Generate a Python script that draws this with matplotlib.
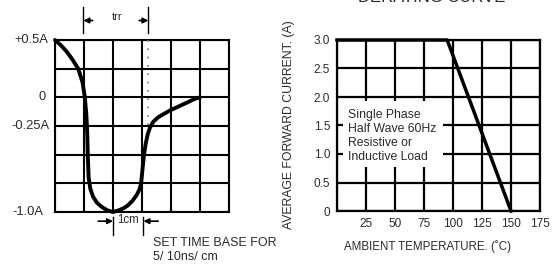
import matplotlib
matplotlib.use("Agg")
import matplotlib.pyplot as plt
from matplotlib.patches import Rectangle
import numpy as np

plt.rcParams["font.family"] = ["Liberation Sans", "DejaVu Sans"]

# reverse recovery waveform (x in cm, y in A)
trr_x = [0.0, 0.2, 0.4, 0.6, 0.8, 0.95, 1.03, 1.08, 1.11, 1.13, 1.16, 1.22, 1.32, 1.45,
         1.61, 1.8, 2.0, 2.2, 2.38, 2.5, 2.68, 2.82, 2.92, 2.97, 3.02, 3.07, 3.13, 3.2,
         3.28, 3.4, 3.55, 3.75, 4.0, 4.3, 4.6, 4.8, 5.0]
trr_y = [0.5, 0.455, 0.4, 0.33, 0.25, 0.13, 0.0, -0.15, -0.3, -0.5, -0.7, -0.8, -0.87, -0.92,
         -0.955, -0.985, -1.0, -0.985, -0.965, -0.945, -0.9, -0.85, -0.8, -0.75, -0.62, -0.5, -0.4, -0.32,
         -0.26, -0.21, -0.175, -0.145, -0.11, -0.075, -0.04, -0.015, 0.0]
left_labels = ["+0.5A", "0", "-0.25A", "-1.0A"]
left_label_vals = [0.5, 0.0, -0.25, -1.0]

# derating curve
temps = [0, 95, 150]
current = [3.0, 3.0, 0.0]
temp_ticks = [0, 25, 50, 75, 100, 125, 150, 175]
current_ticks = [0, 0.5, 1.0, 1.5, 2.0, 2.5, 3.0]

W, H = 557, 267
fig = plt.figure(figsize=(W / 100, H / 100), dpi=100)
txt = "#2a2a2a"

# ---- left: trr waveform ----
ax1 = fig.add_axes([55 / W, (H - 212) / H, 174 / W, 172 / H])
ax1.set_xlim(0, 6)
ax1.set_ylim(-1.0, 0.5)
ax1.set_xticks(np.arange(0, 7, 1))
ax1.set_yticks(np.arange(-1.0, 0.51, 0.25))
ax1.tick_params(length=0, labelbottom=False, labelleft=False)
ax1.grid(True, color="black", lw=1.5)
for s in ax1.spines.values():
    s.set_linewidth(1.5)
ax1.plot(trr_x, trr_y, color="black", lw=2.8, solid_capstyle="round",
         solid_joinstyle="round", zorder=3, clip_on=False)
ax1.plot([3.22, 3.22], [0.5, -0.25], color="#777777", lw=1.2, ls=(0, (1, 4)), zorder=3)

# label x position (cm) and alignment for each level label
lab_pos = {"+0.5A": (-0.24, "right"), "0": (-0.45, "center"),
           "-0.25A": (-0.2, "right"), "-1.0A": (-0.4, "right")}
for lab, v in zip(left_labels, left_label_vals):
    xp, ha = lab_pos[lab]
    ax1.text(xp, v, lab, ha=ha, va="center", fontsize=9.3, color=txt, clip_on=False)

# trr markers
arr = dict(arrowstyle="-|>", color="black", lw=1.2, mutation_scale=8, shrinkA=0, shrinkB=0)
for xv in [0.98, 3.22]:
    ax1.plot([xv, xv], [0.56, 0.79], color="black", lw=1.0, clip_on=False)
ax1.annotate("", xy=(0.98, 0.67), xytext=(1.3, 0.67), arrowprops=arr, annotation_clip=False)
ax1.annotate("", xy=(3.22, 0.67), xytext=(2.9, 0.67), arrowprops=arr, annotation_clip=False)
ax1.text(2.13, 0.70, "trr", ha="center", va="center", fontsize=8, color=txt, clip_on=False)

# 1cm markers
for xv in [2.0, 3.05]:
    ax1.plot([xv, xv], [-1.04, -1.2], color="black", lw=1.0, clip_on=False)
ax1.annotate("", xy=(2.0, -1.08), xytext=(1.49, -1.08), arrowprops=arr, annotation_clip=False)
ax1.annotate("", xy=(3.05, -1.08), xytext=(3.56, -1.08), arrowprops=arr, annotation_clip=False)
ax1.text(2.52, -1.07, "1cm", ha="center", va="center", fontsize=8.3, color=txt, clip_on=False)
ax1.text(3.39, -1.27, "SET TIME BASE FOR", ha="left", va="center", fontsize=9, color=txt, clip_on=False)
ax1.text(3.39, -1.39, "5/ 10ns/ cm", ha="left", va="center", fontsize=9, color=txt, clip_on=False)

# ---- right: derating curve ----
ax2 = fig.add_axes([337 / W, (H - 211) / H, 203 / W, 171 / H])
ax2.set_xlim(0, 175)
ax2.set_ylim(0, 3.0)
ax2.set_xticks(temp_ticks)
ax2.set_xticklabels(["" if t == 0 else str(t) for t in temp_ticks])
ax2.set_yticks(current_ticks)
ax2.set_yticklabels(["0" if c == 0 else f"{c:.1f}" for c in current_ticks])
ax2.tick_params(length=0, labelsize=8.5, labelcolor=txt, pad=5)
ax2.tick_params(axis="x", pad=5)
ax2.grid(True, color="black", lw=1.6)
for s in ax2.spines.values():
    s.set_linewidth(1.6)
ax2.add_patch(Rectangle((5, 0.77), 86, 1.16, facecolor="white", edgecolor="none", zorder=2))
ax2.text(9.5, 1.31, "Single Phase\nHalf Wave 60Hz\nResistive or\nInductive Load",
         ha="left", va="center", fontsize=8.8, color=txt, linespacing=1.22, zorder=4)
ax2.plot(temps, current, color="black", lw=2.5, zorder=3, clip_on=False)
ax2.set_xlabel("AMBIENT TEMPERATURE. (˚C)", fontsize=8.3, color=txt)
ax2.xaxis.set_label_coords((427 - 337) / 203, -0.17)
ax2.set_ylabel("AVERAGE FORWARD CURRENT. (A)", fontsize=8.8, color=txt)
ax2.yaxis.set_label_coords(-(337 - 295) / 203, (211 - 125) / 171)
fig.text(432 / W, (H - 4.5) / H, "DERATING CURVE", ha="center", va="bottom", fontsize=12, color=txt)

fig.savefig("out.png", dpi=100)
